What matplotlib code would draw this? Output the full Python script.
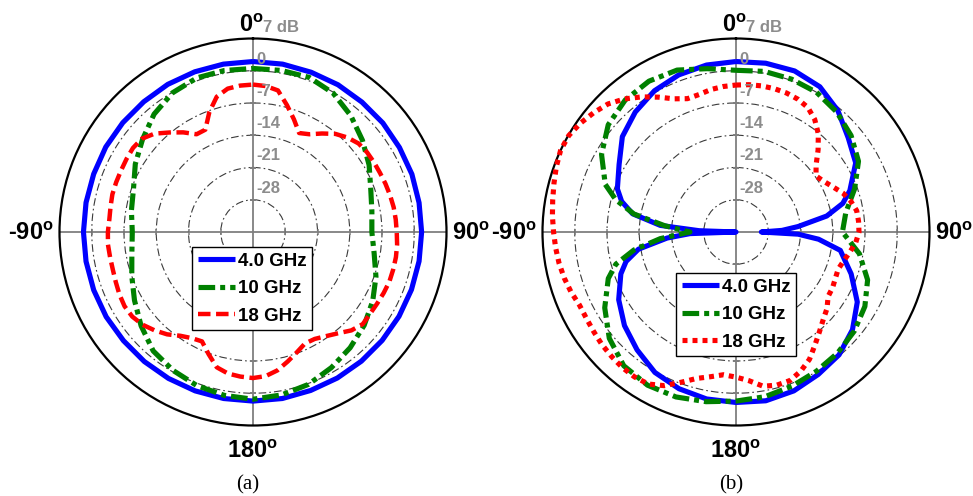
import numpy as np
import matplotlib
matplotlib.use('Agg')
import matplotlib.pyplot as plt

plt.rcParams['font.family'] = ['Liberation Sans', 'DejaVu Sans']
plt.rcParams['mathtext.fontset'] = 'custom'
plt.rcParams['mathtext.bf'] = 'Liberation Sans:bold'
plt.rcParams['mathtext.rm'] = 'Liberation Sans:bold'
plt.rcParams['mathtext.it'] = 'Liberation Sans:bold'
plt.rcParams['lines.scale_dashes'] = False
plt.rcParams['axes.unicode_minus'] = False

# ---------------- data ----------------
r_min, r_max = -35, 7
ring_ticks = [-28, -21, -14, -7, 0]
ring_labels = ['-28', '-21', '-14', '-7', '0']
outer_label = '7 dB'
angle_ticks = [0, 90, 180, 270]
angle_labels = ['0', '90', '180', '-90']
series_names = ['4.0 GHz', '10 GHz', '18 GHz']
panel_labels = ['(a)', '(b)']

# panel (a)
theta_a10 = list(range(0, 361, 10))
a_4ghz = [2.0, 2.0, 1.9, 1.9, 1.8, 1.8, 1.7, 1.7, 1.6, 1.6, 1.6, 1.6, 1.6, 1.6, 1.6,
          1.6, 1.6, 1.7, 1.7, 1.7, 1.7, 1.7, 1.7, 1.7, 1.8, 1.8, 1.8, 1.8, 1.8, 1.8,
          1.9, 1.9, 1.9, 2.0, 2.0, 2.0, 2.0]
a_10ghz = [0.5, 0.6, 0.7, -0.2, -2.0, -4.0, -5.9, -7.8, -8.8, -9.2, -8.3, -6.6, -5.0,
           -3.5, -2.2, -1.0, 0.2, 0.9, 1.3, 1.0, 0.5, -0.3, -1.3, -3.3, -5.3, -7.0,
           -8.3, -8.8, -8.2, -7.4, -5.5, -3.7, -1.6, -0.1, 0.6, 0.6, 0.5]
theta_a5 = list(range(0, 361, 5))
a_18ghz = [-3.0, -3.2, -3.8, -6.5, -9.0, -11.3, -10.5, -8.9, -7.2, -6.0, -5.1, -4.8,
           -4.7, -4.6, -4.4, -4.2, -4.0, -3.9, -3.8, -3.6, -3.5, -3.5, -3.5, -3.7,
           -3.9, -4.0, -3.9, -4.8, -6.3, -7.4, -8.2, -8.3, -7.2, -5.9, -4.5, -3.6,
           -3.3, -3.5, -3.8, -4.6, -6.8, -8.8, -8.4, -7.5, -6.0, -4.8, -3.7, -3.0,
           -2.8, -3.0, -3.3, -3.5, -3.5, -3.4, -3.5, -3.7, -3.6, -3.4, -3.4, -3.4,
           -3.3, -3.2, -3.5, -4.8, -6.8, -8.6, -10.5, -10.5, -7.3, -4.6, -3.4, -3.1,
           -3.0]

# panel (b)
theta_b_4ghz = [0, 10, 20, 30, 40, 50, 60, 70, 75, 80, 85, 88, 90, 92, 95, 100, 110,
                120, 130, 140, 150, 160, 170, 180, 190, 200, 210, 220, 230, 240, 250,
                255, 260, 265, 268, 270, 272, 275, 280, 285, 290, 300, 310, 320, 330,
                340, 350, 360]
b_4ghz = [2.0, 2.2, 2.2, 1.4, -0.6, -3.2, -5.0, -8.7, -11.0, -15.0, -21.5, -25.0,
          -29.5, -21.5, -17.0, -12.0, -8.4, -4.6, -2.0, -0.2, 0.7, 1.7, 2.2, 2.0, 1.8,
          1.2, 0.2, -1.6, -3.4, -5.6, -8.4, -10.3, -13.5, -20.0, -25.0, -35.0, -27.0,
          -18.5, -12.2, -9.3, -7.6, -5.7, -2.8, -1.0, 0.4, 1.3, 1.8, 2.0]
theta_b_10ghz = [0, 10, 20, 30, 40, 50, 60, 70, 80, 90, 100, 110, 120, 130, 140, 150,
                 160, 170, 180, 190, 200, 210, 220, 230, 240, 250, 255, 260, 265, 270,
                 275, 280, 285, 290, 300, 310, 320, 330, 340, 350, 360]
b_10ghz = [0.1, 0.4, 0.3, 0.0, -1.0, -2.4, -4.3, -7.6, -10.8, -11.9, -7.8, -4.6, -2.7,
           -1.5, -0.7, -0.1, 0.6, 1.3, 1.7, 2.4, 3.1, 3.4, 2.9, 0.9, -2.1, -5.5, -8.0,
           -12.5, -18.5, -25.0, -19.5, -12.5, -8.0, -4.8, -1.3, 1.2, 2.4, 2.8, 2.4,
           1.0, 0.1]
theta_b5 = list(range(0, 361, 5))
b_18ghz = [-3.1, -2.9, -2.8, -2.8, -2.9, -3.2, -3.8, -5.2, -7.2, -9.8, -12.3, -13.8,
           -13.0, -11.8, -10.3, -9.2, -8.4, -8.3, -8.3, -8.9, -9.9, -10.8, -11.4,
           -11.2, -10.8, -10.6, -9.2, -8.2, -6.8, -5.1, -3.1, -1.7, -0.7, -0.6, -1.0,
           -2.6, -3.5, -3.9, -3.1, -2.1, -0.3, 1.8, 3.1, 3.4, 3.4, 3.2, 3.0, 2.7, 2.5,
           2.5, 3.1, 3.6, 4.0, 4.3, 4.6, 5.0, 5.4, 5.9, 6.5, 7.0, 6.9, 6.2, 5.3, 4.3,
           2.7, 0.8, -1.2, -3.1, -4.2, -4.1, -3.6, -3.3, -3.1]

# ---------------- style ----------------
BLUE, GREEN, RED = '#0000FF', '#008000', '#FF0000'
LW = 3.7
styles = [
    dict(color=BLUE, lw=LW, linestyle='-'),
    dict(color=GREEN, lw=LW, linestyle=(0, (12, 3.6, 3.6, 3.6))),
    dict(color=RED, lw=3.2, linestyle=(0, (9, 4))),
]
dotted_red = dict(color=RED, lw=LW, linestyle=(0, (3.6, 3.6)))

W, H = 973, 496
fig = plt.figure(figsize=(W / 100, H / 100), dpi=100)

panels = [
    dict(cx=253, label_x=248,
         series=[(theta_a10, a_4ghz, styles[0]), (theta_a10, a_10ghz, styles[1]),
                 (theta_a5, a_18ghz, styles[2])],
         legend_xy=(192, 247)),
    dict(cx=736, label_x=731,
         series=[(theta_b_4ghz, b_4ghz, styles[0]), (theta_b_10ghz, b_10ghz, styles[1]),
                 (theta_b5, b_18ghz, dotted_red)],
         legend_xy=(676, 273)),
]
cy, R = 232, 193.5
GRID_GRAY = '#7f7f7f'
LABEL_GRAY = '#8c8c8c'


def deg_label(lab):
    if lab.startswith('-'):
        return r'$\text{-}\mathbf{%s^{o}}$' % lab[1:]
    return r'$\mathbf{%s^{o}}$' % lab


for p, plab in zip(panels, panel_labels):
    ax = fig.add_axes([(p['cx'] - R) / W, (H - cy - R) / H, 2 * R / W, 2 * R / H],
                      projection='polar')
    ax.set_theta_zero_location('N')
    ax.set_theta_direction(-1)
    ax.set_rlim(r_min, r_max)
    ax.set_rticks(ring_ticks)
    ax.set_yticklabels([])
    ax.set_thetagrids(angle_ticks, labels=[''] * len(angle_ticks))
    ax.xaxis.grid(True, color=GRID_GRAY, lw=1.3, linestyle='-')
    ax.yaxis.grid(True, color='#3a3a3a', lw=0.8, linestyle=(0, (5.5, 2.2, 1.2, 2.2)))
    ax.spines['polar'].set_color('black')
    ax.spines['polar'].set_linewidth(1.6)
    ax.tick_params(axis='both', length=0, pad=0)

    # small tick marks where rings cross the axes
    for ang, mk in [(0, '_'), (180, '_'), (90, '|'), (270, '|')]:
        ax.plot(np.deg2rad([ang] * len(ring_ticks)), ring_ticks, linestyle='none',
                marker=mk, ms=5, mew=1.1, color=GRID_GRAY, zorder=2)

    handles = []
    for (th, vals, st), name in zip(p['series'], series_names):
        ln, = ax.plot(np.deg2rad(th), np.clip(vals, r_min, r_max), solid_capstyle='butt',
                      dash_capstyle='butt', label=name, zorder=3, clip_on=False, **st)
        handles.append(ln)

    # radial labels
    for r, lab in zip(ring_ticks, ring_labels):
        ax.annotate(lab, xy=(0, r), xytext=(2.5, 3), textcoords='offset points',
                    ha='left', va='bottom', fontsize=12, fontweight='bold',
                    color=LABEL_GRAY, zorder=4)
    ax.annotate(outer_label, xy=(0, r_max), xytext=(7, 5), textcoords='offset points',
                ha='left', va='baseline', fontsize=12, fontweight='bold',
                color=LABEL_GRAY, annotation_clip=False)

    # angle labels
    offs = {0: ((-1.5, 5), 'center', 'baseline'),
            90: ((4, -5.5), 'left', 'baseline'),
            180: ((0, -23.5), 'center', 'baseline'),
            270: ((-4, -5.5), 'right', 'baseline')}
    for ang, lab in zip(angle_ticks, angle_labels):
        off, ha, va = offs[ang]
        ax.annotate(deg_label(lab), xy=(np.deg2rad(ang), r_max),
                    xytext=off, textcoords='offset points', ha=ha, va=va,
                    fontsize=17, annotation_clip=False)

    lx, ly = p['legend_xy']
    leg = ax.legend(handles=handles, loc='upper left',
                    bbox_to_anchor=(lx / W, 1 - ly / H), bbox_transform=fig.transFigure,
                    borderaxespad=0, fancybox=False, framealpha=1, edgecolor='black',
                    prop=dict(weight='bold', size=13.5), handlelength=2.0,
                    handletextpad=0.15, labelspacing=0.55, borderpad=0.3)
    leg.get_frame().set_linewidth(1.0)
    leg.set_zorder(5)

    fig.text(p['label_x'] / W, 1 - 485 / H, plab, ha='center', va='center',
             fontsize=15, family=['Liberation Serif', 'DejaVu Serif'])

fig.savefig('out.png', dpi=100, facecolor='white')
